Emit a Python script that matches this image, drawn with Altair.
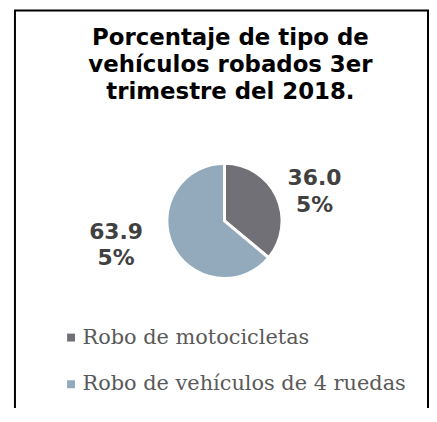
import altair as alt
import pandas as pd

categories = ["Robo de motocicletas", "Robo de vehículos de 4 ruedas"]
values = [36.05, 63.95]
labels = ["36.0\n5%", "63.9\n5%"]
colors = ["#707076", "#92aabb"]
title_lines = ["Porcentaje de tipo de", "vehículos robados 3er", "trimestre del 2018."]

df = pd.DataFrame({"cat": categories, "val": values, "label": labels, "order": [0, 1]})
tdf = pd.DataFrame({"t": title_lines, "i": [0, 1, 2]})

theta_scale = alt.Scale(domain=[0, 100], range=[0, 6.283185307179586])

color = alt.Color("cat:N", scale=alt.Scale(domain=categories, range=colors),
                  legend=alt.Legend(orient="none", legendX=53, legendY=320, title=None,
                                    symbolType="square", symbolSize=64, symbolStrokeWidth=0,
                                    labelFont="DejaVu Serif", labelFontSize=21,
                                    labelColor="#595959", rowPadding=25, labelOffset=1,
                                    labelLimit=400))

CX, CY = 218, 213

pie = alt.Chart(df).mark_arc(outerRadius=58, stroke="white", strokeWidth=3).encode(
    theta=alt.Theta("val:Q", stack=True, scale=theta_scale),
    order=alt.Order("order:Q"),
    color=color, x=alt.value(CX), y=alt.value(CY)
)

lbase = alt.Chart(df).transform_window(
    v1="sum(val)", sort=[alt.SortField("order")]
).transform_calculate(mid="datum.v1 - datum.val / 2")

lab1 = lbase.transform_filter(alt.datum.order == 0).mark_text(
    radius=88, dx=11, dy=-6, font="DejaVu Sans", fontWeight="bold", fontSize=22,
    color="#404040", lineBreak="\n", lineHeight=27, baseline="middle"
).encode(text="label:N", theta=alt.Theta("mid:Q", scale=theta_scale, stack=None),
         x=alt.value(CX), y=alt.value(CY))

lab2 = lbase.transform_filter(alt.datum.order == 1).mark_text(
    radius=115, dx=-5, dy=-38, font="DejaVu Sans", fontWeight="bold", fontSize=22,
    color="#404040", lineBreak="\n", lineHeight=27, baseline="middle"
).encode(text="label:N", theta=alt.Theta("mid:Q", scale=theta_scale, stack=None),
         x=alt.value(CX), y=alt.value(CY))

title = alt.Chart(tdf).mark_text(
    font="DejaVu Sans", fontWeight="bold", fontSize=23, color="#000000",
    baseline="alphabetic", align="center"
).encode(
    text="t:N",
    x=alt.value(224),
    y=alt.Y("i:Q", scale=alt.Scale(domain=[0, 2], range=[36, 90]), axis=None),
)

frame = alt.Chart(pd.DataFrame({"a": [0]})).mark_rect(
    fill=None, stroke="black", strokeWidth=2
).encode(x=alt.value(7), x2=alt.value(423), y=alt.value(1), y2=alt.value(440))

chart = alt.layer(frame, pie, lab1, lab2, title).resolve_scale(
    theta="shared"
).properties(
    width=424, height=400, padding=0,
    autosize=alt.AutoSizeParams(type="none"),
).configure_view(stroke=None)

chart.save("out.html", embed_options={"renderer": "svg", "actions": False})
